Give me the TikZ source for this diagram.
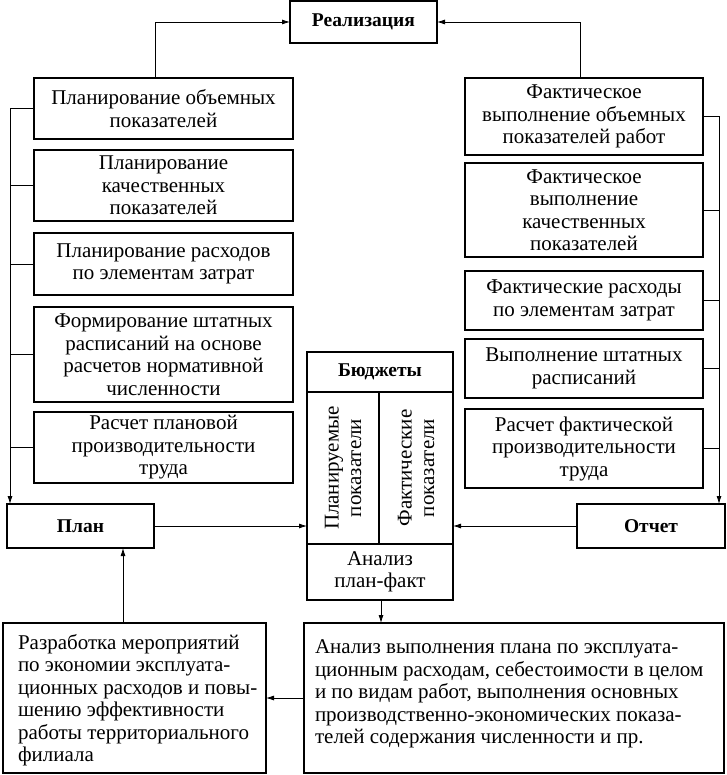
\documentclass[tikz,border=0pt]{standalone}
\usepackage{fontspec}
\setmainfont{Liberation Serif}
\usetikzlibrary{arrows.meta,calc}
\begin{document}
\begin{tikzpicture}[x=1pt,y=-1pt,
  every node/.style={inner sep=0pt, outer sep=0pt},
  box/.style={draw, line width=1.4pt, align=center,
    font=\fontsize{21}{22.5}\selectfont},
  txt/.style={box, draw=none},
  bbox/.style={box, font=\fontsize{19.5}{22}\selectfont\bfseries},
  conn/.style={line width=0.8pt},
  arr/.style={conn, -{Latex[length=8pt,width=5pt]}}]
\useasboundingbox (0,0) rectangle (726,775);

\node[bbox, minimum width=147pt, minimum height=42pt] (real) at (363.5,22) {Реализация};

\tikzset{lbox/.style={box, minimum width=259pt}}
\node[lbox, minimum height=61pt] (L1) at (163.5,108.5) {Планирование объемных\\показателей};
\node[lbox, minimum height=71pt] (L2) at (163.5,185.5) {Планирование\\качественных\\показателей};
\node[lbox, minimum height=62pt] (L3) at (163.5,264) {Планирование расходов\\по элементам затрат};
\node[lbox, minimum height=95pt] (L4) at (163.5,354.5) {Формирование штатных\\расписаний на основе\\расчетов нормативной\\численности};
\node[lbox, minimum height=71pt] (L5) at (163.5,447.5) {Расчет плановой\\производительности\\труда};

\tikzset{rbox/.style={box, minimum width=238pt}}
\node[rbox, minimum height=77pt] (R1) at (584,116.5) {Фактическое\\выполнение объемных\\показателей работ};
\node[rbox, minimum height=94pt] (R2) at (584,210) {Фактическое\\выполнение\\качественных\\показателей};
\node[rbox, minimum height=59pt] (R3) at (584,300.5) {Фактические расходы\\по элементам затрат};
\node[rbox, minimum height=59pt] (R4) at (584,368.5) {Выполнение штатных\\расписаний};
\node[rbox, minimum height=79pt] (R5) at (584,448.5) {Расчет фактической\\производительности\\труда};

\node[bbox, minimum width=147pt, minimum height=44pt] (plan) at (80.5,526) {План};
\node[bbox, minimum width=148pt, minimum height=44pt] (otchet) at (651,526) {Отчет};

\node[bbox, minimum width=146pt, minimum height=40pt] (bud) at (380,372) {Бюджеты};
\node[box, minimum width=72pt, minimum height=152pt] (col1) at (343,468) {};
\node[box, minimum width=74pt, minimum height=152pt] (col2) at (416,468) {};
\node[txt, rotate=90] at (col1.center) {Планируемые\\показатели};
\node[txt, rotate=90] at (col2.center) {Фактические\\показатели};
\node[box, minimum width=146pt, minimum height=56pt] (analiz) at (380,572) {Анализ\\план-факт};

\node[box, minimum width=263pt, minimum height=150pt] (BL) at (134.5,698) {};
\node[txt, align=left, anchor=west] at ([xshift=15pt,yshift=-2pt]BL.west)
  {Разработка мероприятий\\по экономии эксплуата-\\ционных расходов и повы-\\шению эффективности\\работы территориального\\филиала};
\node[box, minimum width=420pt, minimum height=150pt] (BR) at (514,698) {};
\node[txt, align=left, anchor=north west] at ([shift={(11pt,-17pt)}]BR.north west)
  {Анализ выполнения плана по эксплуата-\\ционным расходам, себестоимости в целом\\и по видам работ, выполнения основных\\производственно-экономических показа-\\телей содержания численности и пр.};

% top connectors
\draw[arr] ([xshift=-8.5pt]L1.north) |- (real.west);
\draw[arr] ([xshift=-4pt]R1.north) |- (real.east);

% left bus
\coordinate (lbus) at ([xshift=3pt]plan.north west);
\draw[arr] (L1.west) -| (lbus);
\foreach \n in {L2,L3,L4,L5} \draw[conn] (\n.west) -- (\n.west -| lbus);

% right bus
\coordinate (rbus) at ([xshift=-6pt]otchet.north east);
\draw[arr] (R1.east) -| (rbus);
\foreach \n in {R2,R3,R4,R5} \draw[conn] (\n.east) -- (\n.east -| rbus);

% centre
\draw[arr] (plan.east) -- (plan.east -| col1.west);
\draw[arr] (otchet.west) -- (otchet.west -| col2.east);
\draw[arr] ([xshift=1pt]analiz.south) -- ([xshift=1pt]analiz.south |- BR.north);
\draw[arr] (BR.west) -- (BL.east);
\draw[arr] ([xshift=-11.5pt]BL.north) -- ([xshift=-11.5pt]BL.north |- plan.south);
\end{tikzpicture}
\end{document}
